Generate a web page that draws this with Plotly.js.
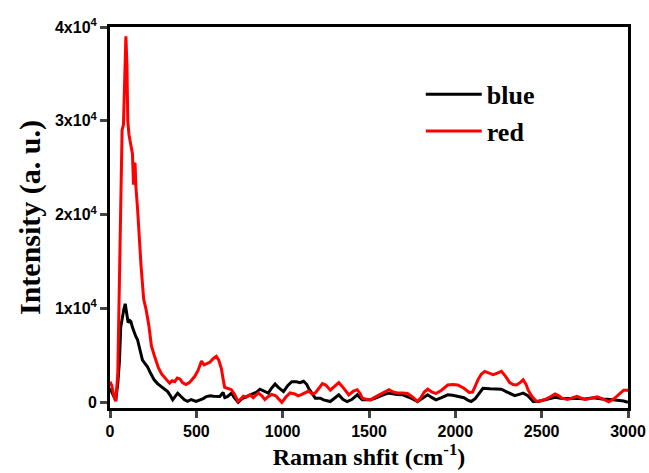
<!DOCTYPE html>
<html>
<head>
<meta charset="utf-8">
<script src="https://cdn.plot.ly/plotly-3.0.1.min.js"></script>
<style>html,body{margin:0;padding:0;background:#fff;}#chart{width:649px;height:473px;}</style>
</head>
<body>
<div id="chart"></div>
<script>
// Raman shift (cm^-1) and intensity (a. u.)
const redX = [0,10,20,33,45,55,62,70,78,85,92,98,103,110,121,130,136,140,145,150,160,170,180,195,210,225,240,260,280,300,320,345,360,375,390,405,420,440,460,490,510,530,545,560,580,600,616,630,645,655,664,680,703,720,742,760,772,790,810,830,859,880,897,915,936,960,980,995,1020,1043,1070,1090,1111,1130,1150,1170,1189,1210,1230,1250,1276,1300,1325,1345,1364,1383,1410,1432,1450,1461,1490,1509,1530,1558,1590,1616,1640,1665,1695,1723,1750,1781,1800,1820,1840,1865,1888,1920,1956,1985,2014,2050,2080,2100,2131,2150,2170,2195,2219,2240,2267,2290,2315,2335,2354,2375,2393,2410,2422,2445,2471,2500,2520,2550,2578,2600,2617,2650,2685,2704,2730,2752,2790,2821,2850,2889,2920,2947,2975,3000];
const redY = [2200,1800,900,100,3000,15000,24000,29000,29600,36000,39000,36000,30000,28500,27600,26500,23200,25400,25500,23000,20500,17000,14500,11000,9800,8200,6000,4800,3700,3000,2600,2050,2300,2200,2600,2500,2100,1900,2100,2750,3400,4400,4000,4100,4300,4700,4900,4500,3600,2500,1600,1500,1350,900,100,400,650,550,800,500,1000,700,300,600,850,700,300,0,600,1000,900,700,850,1000,1200,900,1000,1500,2000,1850,1300,1700,2100,1700,1300,800,1200,1350,900,450,300,270,500,800,1100,1350,1100,1000,1000,950,600,100,500,1100,1400,1100,950,1300,1850,1900,1850,1500,1050,1100,2400,3000,3300,3100,2950,3100,3300,2800,2100,1900,1850,2100,2400,1900,1300,600,100,200,300,600,900,700,450,300,500,650,450,300,450,600,400,50,400,800,1300,1300];

const blueX = [0,20,33,45,55,62,72,80,88,95,105,115,121,130,140,150,159,175,188,200,217,235,256,275,295,315,334,350,363,380,392,410,431,450,470,499,520,540,558,580,600,636,655,665,680,703,720,742,765,791,810,830,850,868,890,917,935,956,975,1005,1030,1053,1080,1100,1121,1140,1150,1170,1189,1218,1237,1276,1300,1325,1350,1373,1400,1432,1461,1490,1509,1530,1558,1590,1616,1640,1665,1695,1723,1750,1781,1810,1840,1865,1888,1920,1956,1985,2014,2050,2075,2092,2115,2131,2160,2200,2240,2267,2300,2344,2370,2393,2420,2451,2480,2520,2550,2578,2610,2650,2700,2750,2800,2850,2900,2947,2975,3000];
const blueY = [1500,800,200,2000,4500,8000,9200,9900,10500,9800,8500,8700,8600,8000,7400,7000,6700,5500,4500,4200,3800,3100,2400,2000,1700,1400,1150,700,270,700,980,650,270,100,300,100,250,400,620,700,650,620,1050,500,600,980,500,0,400,620,700,900,1100,1400,1200,980,1500,1950,1600,1150,1800,2200,2200,2100,2250,1900,1500,900,450,450,270,90,400,800,300,90,300,800,270,300,270,400,620,850,980,900,850,800,620,400,90,400,800,500,270,500,800,750,620,500,200,90,400,800,1500,1450,1450,1400,1100,710,850,980,700,90,100,300,450,550,450,400,450,350,500,350,300,200,150,0];

const seriesNames = ['blue', 'red'];
const yTickVals = [0, 10000, 20000, 30000, 40000];
const yTickText = ['0', '1x10<sup>4</sup>', '2x10<sup>4</sup>', '3x10<sup>4</sup>', '4x10<sup>4</sup>'];
const xTickVals = [0, 500, 1000, 1500, 2000, 2500, 3000];

const traces = [
  {x: blueX, y: blueY, name: seriesNames[0], type: 'scatter', mode: 'lines',
   line: {color: '#000000', width: 3}},
  {x: redX, y: redY, name: seriesNames[1], type: 'scatter', mode: 'lines',
   line: {color: '#ff0000', width: 3}}
];

const tickFont = {family: 'Liberation Sans, Arial, sans-serif', size: 16, color: '#000', weight: 'bold'};
const serif = 'Liberation Serif, Times New Roman, serif';

const layout = {
  width: 649, height: 473,
  margin: {l: 110, r: 21, t: 27, b: 65},
  paper_bgcolor: '#fff', plot_bgcolor: '#fff',
  showlegend: true,
  legend: {x: 0.6, y: 0.885, xanchor: 'left', yanchor: 'top',
    font: {family: serif, size: 26, color: '#000', weight: 'bold'},
    bgcolor: 'rgba(0,0,0,0)', tracegroupgap: 0, itemwidth: 56},
  xaxis: {
    range: [0, 3000], tickvals: xTickVals, ticks: 'outside', ticklen: 7, tickwidth: 3,
    showline: true, linewidth: 3, linecolor: '#000', mirror: true, showgrid: false, zeroline: false,
    tickfont: tickFont, automargin: false,
    title: {text: 'Raman shfit (cm<sup>-1</sup>)', font: {family: serif, size: 24, color: '#000', weight: 'bold'}, standoff: 9}
  },
  yaxis: {
    range: [-600, 40000], tickvals: yTickVals, ticktext: yTickText, ticks: 'outside', ticklen: 7, tickwidth: 3,
    showline: true, linewidth: 3, linecolor: '#000', mirror: true, showgrid: false, zeroline: false,
    tickfont: tickFont, automargin: false,
    title: {text: 'Intensity (a. u.)', font: {family: serif, size: 30, color: '#000', weight: 'bold'}, standoff: 6}
  }
};

Plotly.newPlot('chart', traces, layout, {displayModeBar: false, staticPlot: true});
</script>
</body>
</html>
